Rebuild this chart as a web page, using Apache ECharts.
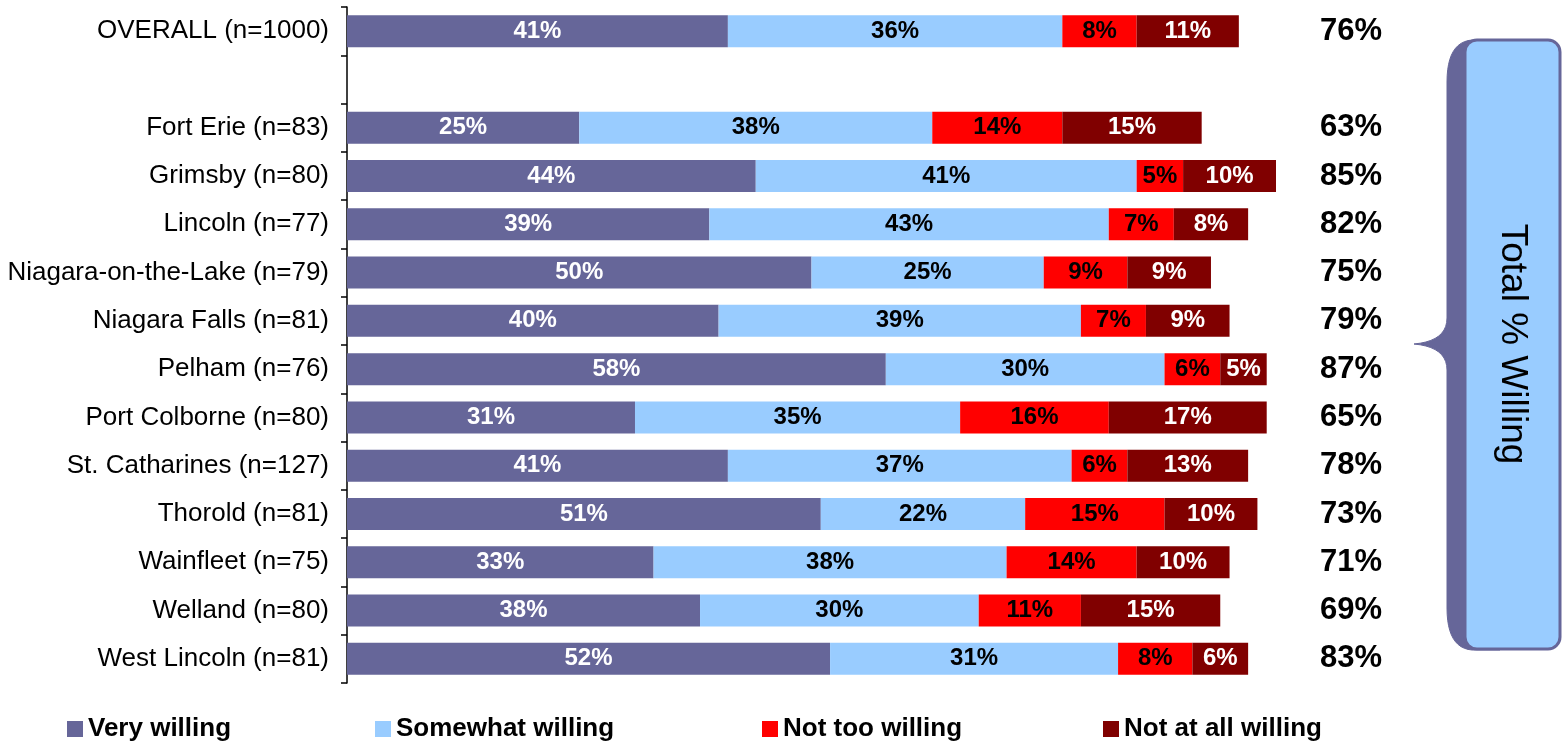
<!DOCTYPE html>
<html><head><meta charset="utf-8">
<script src="https://cdn.jsdelivr.net/npm/echarts@6/dist/echarts.min.js"></script>
<style>html,body{margin:0;padding:0;background:#fff}#c{width:1562px;height:742px}</style>
</head><body><div id="c"></div>
<script>
const categories = ['OVERALL (n=1000)', '', 'Fort Erie (n=83)', 'Grimsby (n=80)', 'Lincoln (n=77)', 'Niagara-on-the-Lake (n=79)', 'Niagara Falls (n=81)', 'Pelham (n=76)', 'Port Colborne (n=80)', 'St. Catharines (n=127)', 'Thorold (n=81)', 'Wainfleet (n=75)', 'Welland (n=80)', 'West Lincoln (n=81)'];
const veryWilling = [41, null, 25, 44, 39, 50, 40, 58, 31, 41, 51, 33, 38, 52];
const somewhatWilling = [36, null, 38, 41, 43, 25, 39, 30, 35, 37, 22, 38, 30, 31];
const notTooWilling = [8, null, 14, 5, 7, 9, 7, 6, 16, 6, 15, 14, 11, 8];
const notAtAllWilling = [11, null, 15, 10, 8, 9, 9, 5, 17, 13, 10, 10, 15, 6];
const totalWilling = [76, null, 63, 85, 82, 75, 79, 87, 65, 78, 73, 71, 69, 83];
const seriesNames = ['Very willing', 'Somewhat willing', 'Not too willing', 'Not at all willing'];
const colors = ['#666699', '#99CCFF', '#FF0000', '#800000'];
const labelColors = ['#ffffff', '#000000', '#000000', '#ffffff'];
const FONT = '"Liberation Sans", Arial, sans-serif';

const chart = echarts.init(document.getElementById('c'));
const values = [veryWilling, somewhatWilling, notTooWilling, notAtAllWilling];
const legendLefts = [62, 370, 757, 1098];

// decorative brace outline (quadratic segments sampled)
function quad(p0, c, p1, n) {
  const pts = [];
  for (let k = 1; k <= n; k++) {
    const t = k / n, u = 1 - t;
    pts.push([u * u * p0[0] + 2 * u * t * c[0] + t * t * p1[0], u * u * p0[1] + 2 * u * t * c[1] + t * t * p1[1]]);
  }
  return pts;
}
let brace = [[1472, 40]];
brace = brace.concat(quad([1472, 40], [1447, 42], [1447, 82], 12));
brace.push([1447, 318]);
brace = brace.concat(quad([1447, 318], [1447, 341], [1414, 344], 10));
brace = brace.concat(quad([1414, 344], [1447, 347], [1447, 370], 10));
brace.push([1447, 608]);
brace = brace.concat(quad([1447, 608], [1447, 648], [1472, 650], 12));
brace.push([1500, 650], [1500, 40]);

const option = {
  backgroundColor: '#ffffff',
  animation: false,
  textStyle: { fontFamily: FONT },
  grid: { left: 347, right: 286, top: 7, bottom: 59 },
  xAxis: { type: 'value', min: 0, max: 100, show: false },
  yAxis: [
    {
      type: 'category', data: categories, inverse: true,
      axisLine: { lineStyle: { color: '#000', width: 1.5 } },
      axisTick: { show: true, length: 6, lineStyle: { color: '#000', width: 1.5 } },
      axisLabel: { color: '#000', fontSize: 26, fontFamily: FONT, margin: 18 }
    },
    {
      type: 'category', data: totalWilling.map(v => v == null ? '' : v + '%'), inverse: true,
      position: 'right',
      axisLine: { show: false }, axisTick: { show: false },
      axisLabel: { color: '#000', fontSize: 31, fontWeight: 'bold', fontFamily: FONT, margin: 44 }
    }
  ],
  legend: seriesNames.map((n, i) => ({
    data: [n], left: legendLefts[i], top: 711, icon: 'rect', itemWidth: 16, itemHeight: 16, itemGap: 0,
    textStyle: { fontSize: 26, fontWeight: 'bold', color: '#000', fontFamily: FONT }
  })),
  series: seriesNames.map((n, i) => ({
    name: n, type: 'bar', stack: 'all', barWidth: 32,
    itemStyle: { color: colors[i] },
    label: {
      show: true, position: 'inside', formatter: p => p.value == null ? '' : p.value + '%',
      color: labelColors[i], fontSize: 24, fontWeight: 'bold', fontFamily: FONT
    },
    data: values[i]
  })),
  graphic: [
    {
      type: 'polygon', z: 10,
      shape: { points: brace },
      style: { fill: '#666699', stroke: '#666699', lineWidth: 1 }
    },
    {
      type: 'rect', z: 11,
      shape: { x: 1465, y: 40, width: 95, height: 609, r: 12 },
      style: { fill: '#99CCFF', stroke: '#666699', lineWidth: 3 }
    },
    {
      type: 'text', z: 12, x: 1512, y: 344, rotation: -Math.PI / 2,
      style: { text: 'Total % Willing', fontSize: 37, fontFamily: FONT, fill: '#000', align: 'center', verticalAlign: 'middle' }
    }
  ]
};
chart.setOption(option);
</script></body></html>
